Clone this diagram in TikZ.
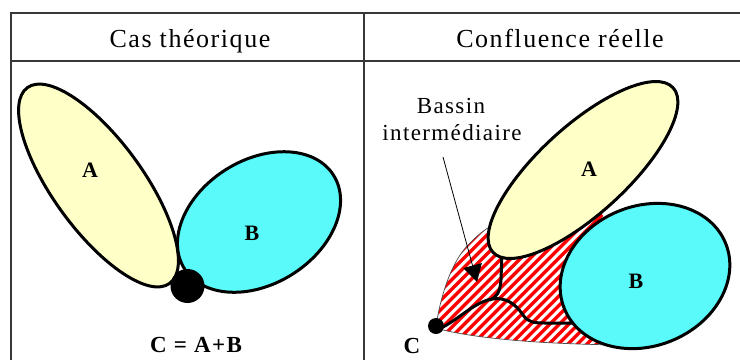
\documentclass[tikz,border=0pt]{standalone}
\usepackage{fontspec}
\setmainfont{Liberation Serif}
\newfontfamily\lsfont[LetterSpace=6]{Liberation Serif}
\usetikzlibrary{arrows.meta}
\definecolor{paleyellow}{RGB}{255,255,200}
\definecolor{brightcyan}{RGB}{90,250,250}
\definecolor{tablegray}{RGB}{55,55,55}
\definecolor{hatchred}{RGB}{255,0,0}
\begin{document}
\begin{tikzpicture}[x=1pt,y=-1pt,
  tableline/.style={line width=2pt, draw=tablegray},
  header/.style={font=\lsfont\fontsize{26}{30}\selectfont, anchor=base, inner sep=0pt},
  caption/.style={font=\lsfont\fontsize{23}{27}\selectfont, anchor=base, inner sep=0pt},
  lbl/.style={font=\lsfont\bfseries\fontsize{22}{26}\selectfont, inner sep=0pt},
  formula/.style={font=\lsfont\bfseries\fontsize{23}{27}\selectfont, anchor=base, inner sep=0pt},
  yellowbasin/.style={fill=paleyellow, draw=black, line width=3pt},
  cyanbasin/.style={fill=brightcyan, draw=black, line width=3pt},
  stream/.style={draw=black, line width=3pt, line cap=round, line join=round},
  outlet/.style={fill=black},
  pointer/.style={draw=black, line width=0.8pt, -{Triangle[length=17pt,width=19pt]}}
]
\useasboundingbox (0,0) rectangle (740,360);
\fill[white] (0,0) rectangle (740,360);

% table
\draw[tableline] (11,13) -- (740,13);
\draw[tableline] (11,61) -- (740,61);
\draw[tableline] (11,12) -- (11,360);
\draw[tableline] (364,12) -- (364,360);
\node[header] (h1) at (190,47) {Cas théorique};
\node[header] (h2) at (560,47) {Confluence réelle};

% ---------- left panel ----------
\draw[yellowbasin, rotate around={-54:(98.5,185.5)}] (98.5,185.5) ellipse [x radius=121pt, y radius=45pt];
\draw[cyanbasin, rotate around={32:(259,222)}] (259,222) ellipse [x radius=88pt, y radius=62pt];
\fill[outlet] (187.5,286) circle [radius=17pt];
\node[lbl] (la) at (90,170) {A};
\node[lbl] (lb) at (252,233) {B};
\node[formula] (eq) at (196,352) {C = A+B};

% ---------- right panel ----------
\begin{scope}
  \clip (436,326) .. controls (440,300) and (450,262) .. (470,243)
        .. controls (478,235) and (485,229) .. (492,226) -- (540,205) -- (600,212)
        -- (640,260) -- (630,330) -- (617,345)
        .. controls (560,344) and (490,341) .. (443,330) -- cycle;
  \foreach \i in {0,...,50}
    \draw[hatchred, line width=3.4pt] (200+\i*9.5,370) -- ++(320,-320);
\end{scope}
\draw[black!70, line width=0.7pt] (436,326) .. controls (440,300) and (450,262) .. (470,243)
        .. controls (478,235) and (485,229) .. (492,226);
\draw[black!70, line width=0.7pt] (617,345) .. controls (560,344) and (490,341) .. (443,330) -- (436,326);

\draw[stream] (443,327) .. controls (460,318) and (475,302) .. (492,299)
   .. controls (505,297) and (515,303) .. (523,315)
   .. controls (528,322) and (533,323) .. (545,323) -- (577,323);
\draw[stream] (502,250) -- (501,280) .. controls (500,292) and (497,297) .. (490,300);

\draw[cyanbasin, rotate around={22:(645,276)}] (645,276) ellipse [x radius=87pt, y radius=70pt];
\draw[yellowbasin, rotate around={42.4:(583,170)}] (583,170) ellipse [x radius=122pt, y radius=44pt];
\fill[outlet] (436,326) circle [radius=8pt];

\node[lbl] (ra) at (589,169) {A};
\node[lbl] (rb) at (636,281) {B};
\node[formula] (rc) at (412,353) {C};

\node[caption] (bassin1) at (451,113) {Bassin};
\node[caption] (bassin2) at (452,140) {intermédiaire};
\coordinate (arrstart) at (443,157);
\coordinate (arrtip) at (477,282);
\draw[pointer] (arrstart) -- (arrtip);
\end{tikzpicture}
\end{document}
